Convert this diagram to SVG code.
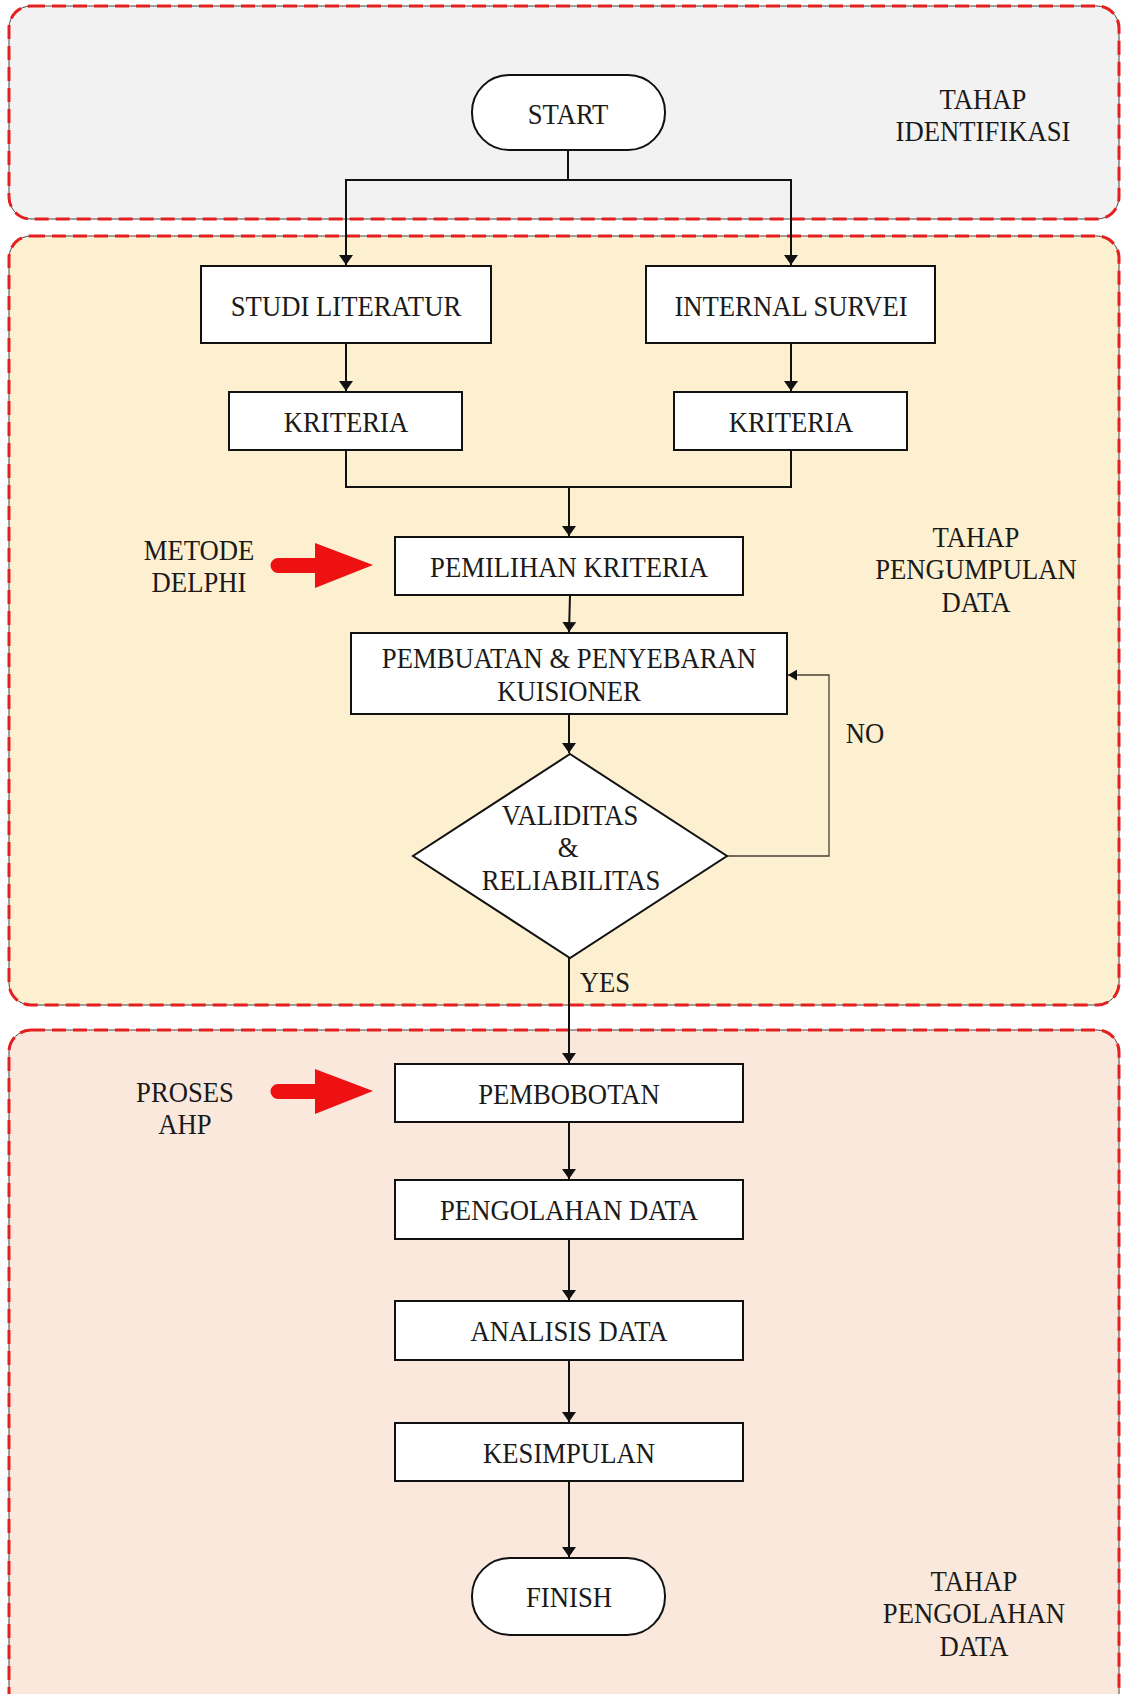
<svg xmlns="http://www.w3.org/2000/svg" width="1121" height="1694" viewBox="0 0 1121 1694">
<style>
  .panel-base{stroke:#444;stroke-width:1;}
  .panel-dash{fill:none;stroke:#e3201f;stroke-width:3;stroke-dasharray:14 7;}
  .box{fill:#fff;stroke:#111;stroke-width:2;}
  .t{font-family:"Liberation Serif","Times New Roman",serif;font-size:29px;fill:#1a1a1a;text-anchor:middle;dominant-baseline:central;}
  .conn{fill:none;stroke:#111;stroke-width:2;}
  .thin{fill:none;stroke:#4a3f33;stroke-width:1.3;}
  .red{fill:#ee1111;}
</style>
<defs>
  <marker id="ah" viewBox="0 0 10 14" refX="10" refY="7" markerWidth="10" markerHeight="14" markerUnits="userSpaceOnUse" orient="auto">
    <path d="M0,0 L10,7 L0,14 Z" fill="#111"/>
  </marker>
  <marker id="ahs" viewBox="0 0 10 12" refX="10" refY="6" markerWidth="9" markerHeight="11" markerUnits="userSpaceOnUse" orient="auto">
    <path d="M0,0 L10,6 L0,12 Z" fill="#111"/>
  </marker>
</defs>

<rect width="1121" height="1694" fill="#ffffff"/>

<!-- Panels -->
<g id="panel-identifikasi">
  <rect class="panel-base" x="9" y="6" width="1110" height="213" rx="22" fill="#f2f2f2"/>
  <rect class="panel-dash" x="9" y="6" width="1110" height="213" rx="22"/>
  <text class="t" transform="translate(983,99) scale(0.92,1)">TAHAP</text>
  <text class="t" transform="translate(983,131) scale(0.92,1)">IDENTIFIKASI</text>
</g>
<g id="panel-pengumpulan">
  <rect class="panel-base" x="9" y="236" width="1110" height="769" rx="22" fill="#fdf0d0"/>
  <rect class="panel-dash" x="9" y="236" width="1110" height="769" rx="22"/>
  <text class="t" transform="translate(976,537) scale(0.92,1)">TAHAP</text>
  <text class="t" transform="translate(976,569) scale(0.92,1)">PENGUMPULAN</text>
  <text class="t" transform="translate(976,602) scale(0.92,1)">DATA</text>
</g>
<g id="panel-pengolahan">
  <rect class="panel-base" x="9" y="1030" width="1110" height="700" rx="22" fill="#fbe8dc"/>
  <rect class="panel-dash" x="9" y="1030" width="1110" height="700" rx="22"/>
  <text class="t" transform="translate(974,1581) scale(0.92,1)">TAHAP</text>
  <text class="t" transform="translate(974,1613) scale(0.92,1)">PENGOLAHAN</text>
  <text class="t" transform="translate(974,1646) scale(0.92,1)">DATA</text>
</g>

<!-- Connectors -->
<g id="connectors">
  <path class="conn" d="M568,150 V180 H346 V265" marker-end="url(#ah)"/>
  <path class="conn" d="M568,180 H791 V265" marker-end="url(#ah)"/>
  <path class="conn" d="M346,343 V391" marker-end="url(#ah)"/>
  <path class="conn" d="M791,343 V391" marker-end="url(#ah)"/>
  <path class="conn" d="M346,450 V487 H791 V450"/>
  <path class="conn" d="M569,487 V536" marker-end="url(#ah)"/>
  <path class="conn" d="M570,595 L569,632" marker-end="url(#ah)"/>
  <path class="conn" d="M569,714 V753" marker-end="url(#ah)"/>
  <path class="thin" d="M727,856 H829 V675 H788" marker-end="url(#ahs)"/>
  <path class="conn" d="M569,958 V1063" marker-end="url(#ah)"/>
  <path class="conn" d="M569,1122 V1179" marker-end="url(#ah)"/>
  <path class="conn" d="M569,1239 V1300" marker-end="url(#ah)"/>
  <path class="conn" d="M569,1360 V1422" marker-end="url(#ah)"/>
  <path class="conn" d="M569,1481 V1557" marker-end="url(#ah)"/>
  <text class="t" transform="translate(865,733) scale(0.92,1)">NO</text>
  <text class="t" transform="translate(605,982) scale(0.92,1)">YES</text>
</g>

<!-- Nodes -->
<g id="start">
  <rect class="box" x="472" y="75" width="193" height="75" rx="37"/>
  <text class="t" transform="translate(568,114) scale(0.92,1)">START</text>
</g>
<g id="studi-literatur">
  <rect class="box" x="201" y="266" width="290" height="77"/>
  <text class="t" transform="translate(346,306) scale(0.92,1)">STUDI LITERATUR</text>
</g>
<g id="internal-survei">
  <rect class="box" x="646" y="266" width="289" height="77"/>
  <text class="t" transform="translate(791,306) scale(0.92,1)">INTERNAL SURVEI</text>
</g>
<g id="kriteria-1">
  <rect class="box" x="229" y="392" width="233" height="58"/>
  <text class="t" transform="translate(346,422) scale(0.92,1)">KRITERIA</text>
</g>
<g id="kriteria-2">
  <rect class="box" x="674" y="392" width="233" height="58"/>
  <text class="t" transform="translate(791,422) scale(0.92,1)">KRITERIA</text>
</g>
<g id="pemilihan-kriteria">
  <rect class="box" x="395" y="537" width="348" height="58"/>
  <text class="t" transform="translate(569,567) scale(0.92,1)">PEMILIHAN KRITERIA</text>
</g>
<g id="pembuatan">
  <rect class="box" x="351" y="633" width="436" height="81"/>
  <text class="t" transform="translate(569,658) scale(0.92,1)">PEMBUATAN &amp; PENYEBARAN</text>
  <text class="t" transform="translate(569,691) scale(0.92,1)">KUISIONER</text>
</g>
<g id="validitas">
  <polygon class="box" points="570,754 727,856 570,958 413,856"/>
  <text class="t" transform="translate(570,815) scale(0.92,1)">VALIDITAS</text>
  <text class="t" transform="translate(568,847) scale(0.92,1)">&amp;</text>
  <text class="t" transform="translate(571,880) scale(0.92,1)">RELIABILITAS</text>
</g>
<g id="metode-delphi">
  <text class="t" transform="translate(199,550) scale(0.92,1)">METODE</text>
  <text class="t" transform="translate(199,582) scale(0.92,1)">DELPHI</text>
  <path class="red" d="M278,558 H315 V543 L373,565 L315,588 V573 H278 A7.5,7.5 0 0 1 278,558 Z"/>
</g>
<g id="pembobotan">
  <rect class="box" x="395" y="1064" width="348" height="58"/>
  <text class="t" transform="translate(569,1094) scale(0.92,1)">PEMBOBOTAN</text>
</g>
<g id="proses-ahp">
  <text class="t" transform="translate(185,1092) scale(0.92,1)">PROSES</text>
  <text class="t" transform="translate(185,1124) scale(0.92,1)">AHP</text>
  <path class="red" d="M278,1084 H315 V1069 L373,1091 L315,1114 V1099 H278 A7.5,7.5 0 0 1 278,1084 Z"/>
</g>
<g id="pengolahan-data">
  <rect class="box" x="395" y="1180" width="348" height="59"/>
  <text class="t" transform="translate(569,1210) scale(0.92,1)">PENGOLAHAN DATA</text>
</g>
<g id="analisis-data">
  <rect class="box" x="395" y="1301" width="348" height="59"/>
  <text class="t" transform="translate(569,1331) scale(0.92,1)">ANALISIS DATA</text>
</g>
<g id="kesimpulan">
  <rect class="box" x="395" y="1423" width="348" height="58"/>
  <text class="t" transform="translate(569,1453) scale(0.92,1)">KESIMPULAN</text>
</g>
<g id="finish">
  <rect class="box" x="472" y="1558" width="193" height="77" rx="38"/>
  <text class="t" transform="translate(569,1597) scale(0.92,1)">FINISH</text>
</g>
</svg>
